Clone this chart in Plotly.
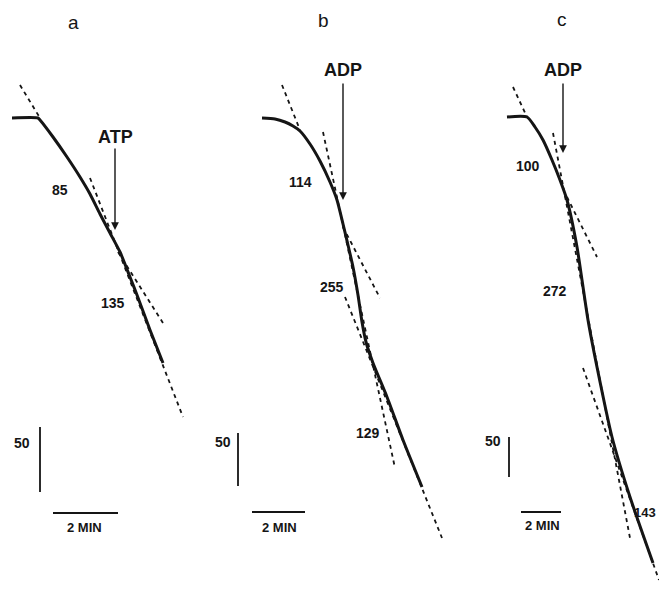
import plotly.graph_objects as go

# ---------------- data (figure units: x to the right, y downward) ----------------
# Panel a: oxygen trace, ATP addition
trace_a_x = [12, 38, 40, 53, 67, 80, 90, 100, 110, 120, 130, 137, 150, 163]
trace_a_y = [118, 118, 120, 137, 157, 177, 194, 214, 233, 252, 277, 295, 330, 363]
# Panel b: oxygen trace, ADP addition
trace_b_x = [262, 275, 285, 293, 300, 310, 320, 330, 337, 343, 348, 353, 358, 362, 366, 373, 387, 403, 422]
trace_b_y = [118, 119, 122, 126, 131, 144, 161, 182, 200, 224, 245, 267, 295, 322, 342, 363, 397, 440, 487]
# Panel c: oxygen trace, ADP addition
trace_c_x = [507, 527, 535, 543, 552, 560, 567, 577, 582, 588, 597, 612, 630, 653]
trace_c_y = [117, 117, 127, 140, 160, 180, 200, 247, 280, 320, 367, 437, 497, 563]

# tangent (rate) lines, dashed: [x0, x1], [y0, y1]
tangents = {
    "a_init": ([20, 40], [85, 118]),
    "a_135": ([90, 183], [178, 417]),
    "a_85": ([118, 163], [252, 323]),
    "b_init": ([282, 300], [85, 130]),
    "b_114": ([343, 380], [227, 298]),
    "b_255": ([323, 395], [132, 468]),
    "b_129": ([345, 442], [297, 538]),
    "c_init": ([513, 527], [87, 117]),
    "c_272": ([553, 630], [133, 538]),
    "c_100": ([567, 597], [197, 257]),
    "c_143": ([583, 659], [368, 580]),
}

# rate labels
rate_labels = ["85", "135", "114", "255", "129", "100", "272"]
rate_x = [60, 113, 300, 332, 368, 528, 555]
rate_y = [190, 303, 182, 287, 433, 166, 291]

# panel letters
panel_labels = ["a", "b", "c"]
panel_x = [73, 323, 562]
panel_y = [22, 20, 19]

# additions (text, x, text y, arrow top, arrow tip)
add_labels = ["ATP", "ADP", "ADP"]
add_x = [115, 343, 563]
add_text_y = [137, 70, 70]
add_top = [147, 82, 82]
add_tip = [230, 200, 153]

# scale bars: "50" vertical and "2 MIN" horizontal
vbar_x = [40, 238, 509]
vbar_y0 = [427, 433, 437]
vbar_y1 = [492, 486, 477]
v_label_x = [22, 223, 493]
v_label_y = [443, 442, 441]
hbar_x0 = [53, 252, 521]
hbar_x1 = [118, 305, 561]
hbar_y = [513, 512, 512]
h_label_x = [84, 279, 542]
h_label_y = [527, 527, 525]

FONT = "Liberation Sans, Arial, sans-serif"
INK = "#151515"

fig = go.Figure()

# dashed tangents first (under the traces)
for name, (xs, ys) in tangents.items():
    fig.add_trace(go.Scatter(x=xs, y=ys, mode="lines",
                             line=dict(color=INK, width=1.8, dash="4px,4px"),
                             hoverinfo="skip", showlegend=False))

for xs, ys in [(trace_a_x, trace_a_y), (trace_b_x, trace_b_y), (trace_c_x, trace_c_y)]:
    fig.add_trace(go.Scatter(x=xs, y=ys, mode="lines",
                             line=dict(color=INK, width=3, shape="spline", smoothing=0.6),
                             hoverinfo="skip", showlegend=False))

# scale bars
for i in range(3):
    fig.add_trace(go.Scatter(x=[vbar_x[i], vbar_x[i]], y=[vbar_y0[i], vbar_y1[i]], mode="lines",
                             line=dict(color=INK, width=1.8), hoverinfo="skip", showlegend=False))
    fig.add_trace(go.Scatter(x=[hbar_x0[i], hbar_x1[i]], y=[hbar_y[i], hbar_y[i]], mode="lines",
                             line=dict(color=INK, width=2), hoverinfo="skip", showlegend=False))

ann = []
for t, x, y in zip(panel_labels, panel_x, panel_y):
    ann.append(dict(x=x, y=y, text=t, showarrow=False, xref="x", yref="y",
                    font=dict(family=FONT, size=19, color=INK)))
for t, x, y, y0, y1 in zip(add_labels, add_x, add_text_y, add_top, add_tip):
    ann.append(dict(x=x, y=y, text="<b>" + t + "</b>", showarrow=False, xref="x", yref="y",
                    font=dict(family=FONT, size=18, color=INK)))
    ann.append(dict(x=x, y=y1, ax=x, ay=y0, xref="x", yref="y", axref="x", ayref="y",
                    text="", showarrow=True, arrowhead=2, arrowsize=1.1, arrowwidth=1.4,
                    arrowcolor=INK))
for t, x, y in zip(rate_labels, rate_x, rate_y):
    ann.append(dict(x=x, y=y, text="<b>" + t + "</b>", showarrow=False, xref="x", yref="y",
                    font=dict(family=FONT, size=14, color=INK)))
ann.append(dict(x=658, y=512, text="<b>143</b>", showarrow=False, xref="x", yref="y",
                xanchor="right", font=dict(family=FONT, size=13, color=INK)))
for i in range(3):
    ann.append(dict(x=v_label_x[i], y=v_label_y[i], text="<b>50</b>", showarrow=False,
                    xref="x", yref="y", font=dict(family=FONT, size=14, color=INK)))
    ann.append(dict(x=h_label_x[i], y=h_label_y[i], text="<b>2 MIN</b>", showarrow=False,
                    xref="x", yref="y", font=dict(family=FONT, size=13, color=INK)))

fig.update_layout(
    width=659, height=608,
    margin=dict(l=0, r=0, t=0, b=0),
    paper_bgcolor="white", plot_bgcolor="white",
    xaxis=dict(range=[0, 659], visible=False, fixedrange=True),
    yaxis=dict(range=[608, 0], visible=False, fixedrange=True),
    annotations=ann,
    showlegend=False,
)

fig.write_html("out.html", config={"displayModeBar": False},
               post_script="document.body.style.margin='0';document.body.style.overflow='hidden';")
